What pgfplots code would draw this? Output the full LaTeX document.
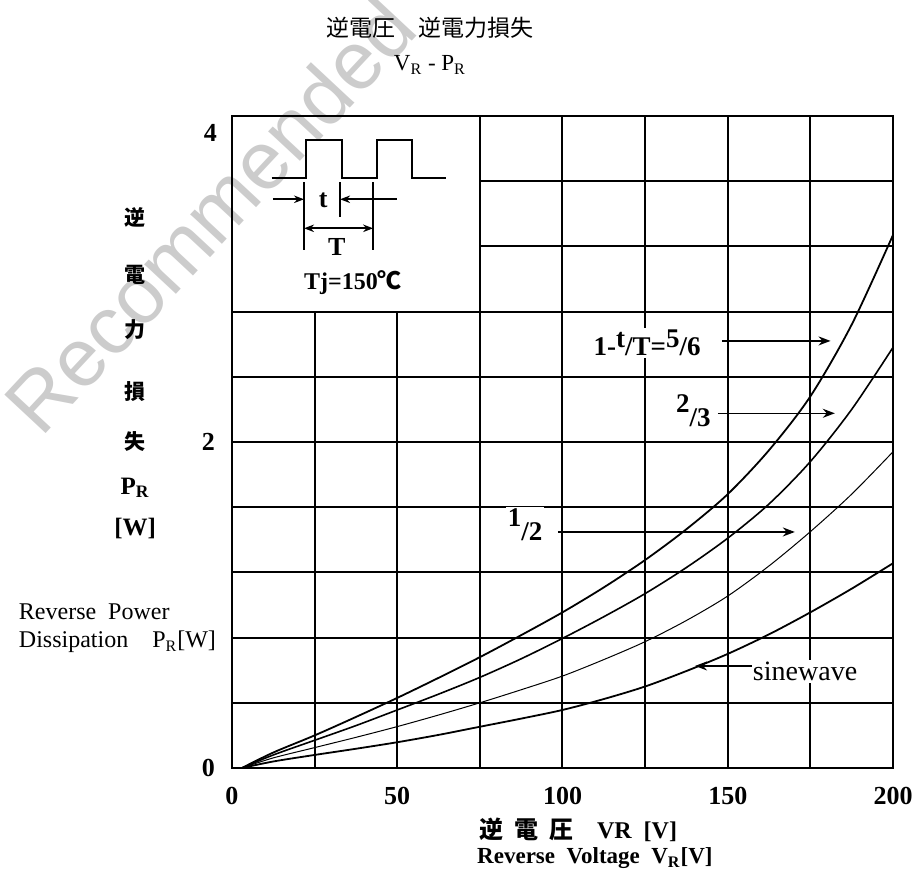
\documentclass[border=0pt]{standalone}
\usepackage{fontspec}
\setmainfont{Liberation Serif}
\newfontfamily\cjk{Noto Sans CJK JP}
\newfontfamily\wm{Liberation Sans}
\usepackage{pgfplots}
\pgfplotsset{compat=1.18}
\usetikzlibrary{arrows.meta}

\begin{document}
\begin{tikzpicture}
\begin{axis}[
  scale only axis, width=330.5pt, height=326pt,
  xmin=0, xmax=200, ymin=0, ymax=4,
  xtick={0,25,...,200},
  xticklabels={0,{},50,{},100,{},150,{},200},
  ytick={0,0.4,0.8,1.2,1.6,2,2.4,2.8,3.2,3.6,4},
  yticklabels={0,{},{},{},{},2,{},{},{},{},{}},
  grid=major, grid style={black, line width=1pt},
  axis line style={line width=1pt},
  major tick length=0pt,
  tick label style={font=\fontsize{13}{13}\selectfont\bfseries},
  /pgf/number format/assume math mode=true,
  xticklabel style={yshift=-6pt},
  yticklabel style={xshift=-5pt},
  clip=false,
]
% 1-t/T = 5/6
\addplot[black, line width=0.9pt, smooth] coordinates {
  (3,0)(12.5,0.095)(25,0.2)(37.5,0.313)(50,0.43)(62.5,0.553)(75,0.68)(87.5,0.815)
  (100,0.955)(112.5,1.108)(125,1.276)(137.5,1.465)(150,1.68)(162.5,1.95)(175,2.28)
  (187.5,2.72)(200,3.27)};
% 2/3
\addplot[black, line width=0.8pt, smooth] coordinates {
  (3,0)(12.5,0.08)(25,0.17)(37.5,0.26)(50,0.356)(62.5,0.453)(75,0.556)(87.5,0.67)
  (100,0.795)(112.5,0.928)(125,1.07)(137.5,1.23)(150,1.41)(162.5,1.62)(175,1.88)
  (187.5,2.2)(200,2.58)};
% 1/2
\addplot[black, line width=0.5pt, smooth] coordinates {
  (3,0)(12.5,0.062)(25,0.125)(37.5,0.188)(50,0.254)(62.5,0.325)(75,0.4)(87.5,0.48)
  (100,0.564)(112.5,0.665)(125,0.775)(137.5,0.905)(150,1.055)(162.5,1.24)(175,1.45)
  (187.5,1.68)(200,1.94)};
% sinewave
\addplot[black, line width=0.9pt, smooth] coordinates {
  (3,0)(12.5,0.04)(25,0.08)(37.5,0.118)(50,0.158)(62.5,0.203)(75,0.253)(87.5,0.303)
  (100,0.356)(112.5,0.423)(125,0.5)(137.5,0.595)(150,0.7)(162.5,0.82)(175,0.955)
  (187.5,1.1)(200,1.256)};

% top y label, set a little below the top edge as in the original
\node[anchor=east, font=\fontsize{13}{13}\selectfont\bfseries] at (axis cs:-2.4,3.896) {4};

% inset box with pulse sketch
\draw[line width=1pt, fill=white] (axis cs:0,2.8) rectangle (axis cs:75,4);
\draw[line width=1pt] (axis cs:12,3.618) -- (axis cs:22.5,3.618) -- (axis cs:22.5,3.853)
  -- (axis cs:33.3,3.853) -- (axis cs:33.3,3.618) -- (axis cs:43.8,3.618) -- (axis cs:43.8,3.853)
  -- (axis cs:54.4,3.853) -- (axis cs:54.4,3.618) -- (axis cs:64.8,3.618);
\draw[line width=0.8pt] (axis cs:21.8,3.595) -- (axis cs:21.8,3.178);
\draw[line width=0.8pt] (axis cs:32.7,3.595) -- (axis cs:32.7,3.382);
\draw[line width=0.8pt] (axis cs:42.7,3.595) -- (axis cs:42.7,3.178);
\draw[line width=0.8pt, -{Stealth[length=5pt]}] (axis cs:12.4,3.489) -- (axis cs:21.8,3.489);
\draw[line width=0.8pt, -{Stealth[length=5pt]}] (axis cs:49.8,3.489) -- (axis cs:32.7,3.489);
\draw[line width=0.8pt, {Stealth[length=5pt]}-{Stealth[length=5pt]}] (axis cs:21.8,3.311) -- (axis cs:42.7,3.311);
\node[font=\fontsize{13}{13}\selectfont\bfseries] at (axis cs:27.6,3.485) {t};
\node[font=\fontsize{13}{13}\selectfont\bfseries] at (axis cs:31.7,3.198) {T};
\node[font=\fontsize{12}{12}\selectfont\bfseries] at (axis cs:36.6,2.975) {Tj=150{\cjk ℃}};

% curve annotations
\node[fill=white, inner sep=1pt, font=\fontsize{13.5}{13.5}\selectfont\bfseries] at (axis cs:125.6,2.607)
  {1-\raisebox{4pt}{t}/T=\raisebox{4pt}{5}/6};
\draw[line width=0.8pt, -{Stealth[length=6pt]}] (axis cs:148.2,2.62) -- (axis cs:181.1,2.62);
\node[fill=white, inner sep=1pt, font=\fontsize{13.5}{13.5}\selectfont\bfseries] at (axis cs:139.6,2.19)
  {\raisebox{4pt}{2}\raisebox{-3pt}{/3}};
\draw[line width=0.8pt, -{Stealth[length=6pt]}] (axis cs:147,2.176) -- (axis cs:182.4,2.176);
\node[fill=white, inner sep=1pt, font=\fontsize{13.5}{13.5}\selectfont\bfseries] at (axis cs:88.7,1.49)
  {\raisebox{4pt}{1}\raisebox{-3pt}{/2}};
\draw[line width=0.8pt, -{Stealth[length=6pt]}] (axis cs:98.6,1.448) -- (axis cs:170.3,1.448);
\node[fill=white, inner sep=1pt, font=\fontsize{14}{14}\selectfont] at (axis cs:173.4,0.59) {sinewave};
\draw[line width=0.8pt, -{Stealth[length=6pt]}] (axis cs:157.2,0.626) -- (axis cs:140.1,0.626);

% titles
\node[font=\cjk\fontsize{11.5}{11.5}\selectfont] at (axis cs:59.9,4.54) {逆電圧\quad 逆電力損失};
\node[font=\fontsize{11.5}{11.5}\selectfont] at (axis cs:59.9,4.313) {V\textsubscript{R} - P\textsubscript{R}};

% y axis label
\node[font=\cjk\bfseries\fontsize{10.5}{10.5}\selectfont] at (axis cs:-29.3,3.38) {逆};
\node[font=\cjk\bfseries\fontsize{10.5}{10.5}\selectfont] at (axis cs:-29.3,3.025) {電};
\node[font=\cjk\bfseries\fontsize{10.5}{10.5}\selectfont] at (axis cs:-29.3,2.687) {力};
\node[font=\cjk\bfseries\fontsize{10.5}{10.5}\selectfont] at (axis cs:-29.3,2.307) {損};
\node[font=\cjk\bfseries\fontsize{10.5}{10.5}\selectfont] at (axis cs:-29.3,2.0) {失};
\node[font=\bfseries\fontsize{12.5}{12.5}\selectfont] at (axis cs:-29.3,1.72) {P\textsubscript{R}};
\node[font=\bfseries\fontsize{12.5}{12.5}\selectfont] at (axis cs:-29.3,1.472) {[W]};
\node[anchor=west, font=\fontsize{12}{12}\selectfont] at (axis cs:-66.6,0.957) {Reverse\ \ Power};
\node[anchor=west, font=\fontsize{12}{12}\selectfont] at (axis cs:-66.6,0.773) {Dissipation\quad P\textsubscript{R}[W]};

% x axis label
\node[font=\bfseries\fontsize{12}{12}\selectfont] at (axis cs:104.7,-0.38) {{\cjk 逆\ \ 電\ \ 圧}\quad VR\ \ [V]};
\node[font=\bfseries\fontsize{11.5}{11.5}\selectfont] at (axis cs:109.8,-0.552) {Reverse\ \ Voltage\ \ V\textsubscript{R}[V]};

% watermark
\node[rotate=47, text=black, text opacity=0.2, font=\wm\fontsize{41}{41}\selectfont] at (axis cs:-6.7,3.39) {Recommended};

\coordinate (sw) at (rel axis cs:0,0);
\coordinate (ne) at (rel axis cs:1,1);
\end{axis}
\pgfresetboundingbox
\path[use as bounding box] ([shift={(-116pt,-59pt)}]sw) rectangle ([shift={(14pt,58pt)}]ne);
\end{tikzpicture}
\end{document}
